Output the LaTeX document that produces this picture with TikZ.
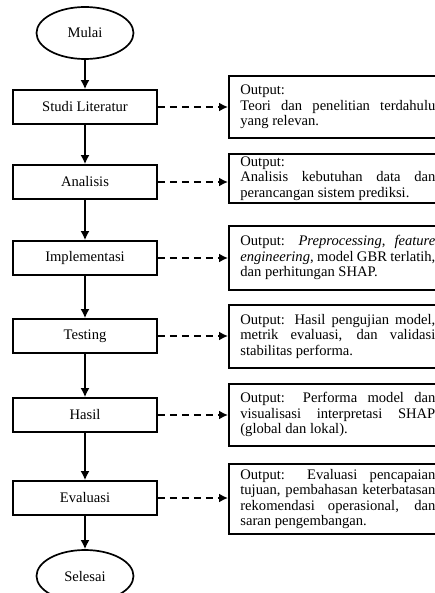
\documentclass[tikz,border=0pt]{standalone}
\usepackage{fontspec}
\setmainfont{Liberation Serif}
\usepackage{tikz}
\usetikzlibrary{arrows.meta,shapes.geometric}

\begin{document}
\begin{tikzpicture}[x=1pt, y=-1pt,
  every node/.style={font=\fontsize{14.6}{15.5}\selectfont},
  tahap/.style={draw, line width=1.7pt, minimum width=144pt, minimum height=34pt, inner sep=0pt},
  terminal/.style={draw, ellipse, line width=1.7pt, minimum width=97pt, minimum height=52pt, inner sep=0pt},
  keluaran/.style={draw, line width=1.7pt, anchor=north west, text width=195pt, align=justify, inner xsep=11.5pt, inner ysep=0pt},
  alur/.style={line width=1.7pt, -{Latex[length=9pt,width=9pt]}},
  hasil/.style={line width=1.7pt, dash pattern=on 7pt off 5pt, -{Latex[length=9pt,width=9pt]}}]
\useasboundingbox (0,0) rectangle (435,593);
\clip (0,0) rectangle (435,593);
\fill[white] (0,0) rectangle (435,593);
%
\node[terminal] (mulai) at (85,33) {Mulai};
\node[tahap] (studi) at (85,107) {Studi Literatur};
\node[tahap] (analisis) at (85,182) {Analisis};
\node[tahap] (impl) at (85,258) {Implementasi};
\node[tahap] (testing) at (85,336) {Testing};
\node[tahap] (hasil) at (85,415) {Hasil};
\node[tahap] (evaluasi) at (85,498) {Evaluasi};
\node[terminal] (selesai) at (85,576) {Selesai};
%
\node[keluaran, minimum height=62pt] (out1) at (228,75) {Output:\\ Teori dan penelitian terdahulu\linebreak yang relevan.};
\node[keluaran, minimum height=49pt] (out2) at (228,153) {Output:\\ Analisis kebutuhan data dan\linebreak perancangan sistem prediksi.};
\node[keluaran, minimum height=64pt] (out3) at (228,225) {Output: \textit{Preprocessing}, \textit{feature}\linebreak \textit{engineering}, model GBR terlatih,\linebreak dan perhitungan SHAP.};
\node[keluaran, minimum height=63pt] (out4) at (228,304) {Output: Hasil pengujian model,\linebreak metrik evaluasi, dan validasi\linebreak stabilitas performa.};
\node[keluaran, minimum height=62pt] (out5) at (228,383) {Output: Performa model dan\linebreak visualisasi interpretasi SHAP\linebreak (global dan lokal).};
\node[keluaran, minimum height=70pt] (out6) at (228,463) {Output: Evaluasi pencapaian\linebreak tujuan, pembahasan keterbatasan\linebreak rekomendasi operasional, dan\linebreak saran pengembangan.};
%
\draw[alur] (mulai) -- (studi);
\draw[alur] (studi) -- (analisis);
\draw[alur] (analisis) -- (impl);
\draw[alur] (impl) -- (testing);
\draw[alur] (testing) -- (hasil);
\draw[alur] (hasil) -- (evaluasi);
\draw[alur] (evaluasi) -- (selesai);
%
\draw[hasil] (studi.east) -- (studi.east -| out1.west);
\draw[hasil] (analisis.east) -- (analisis.east -| out2.west);
\draw[hasil] (impl.east) -- (impl.east -| out3.west);
\draw[hasil] (testing.east) -- (testing.east -| out4.west);
\draw[hasil] (hasil.east) -- (hasil.east -| out5.west);
\draw[hasil] (evaluasi.east) -- (evaluasi.east -| out6.west);
\end{tikzpicture}
\end{document}
